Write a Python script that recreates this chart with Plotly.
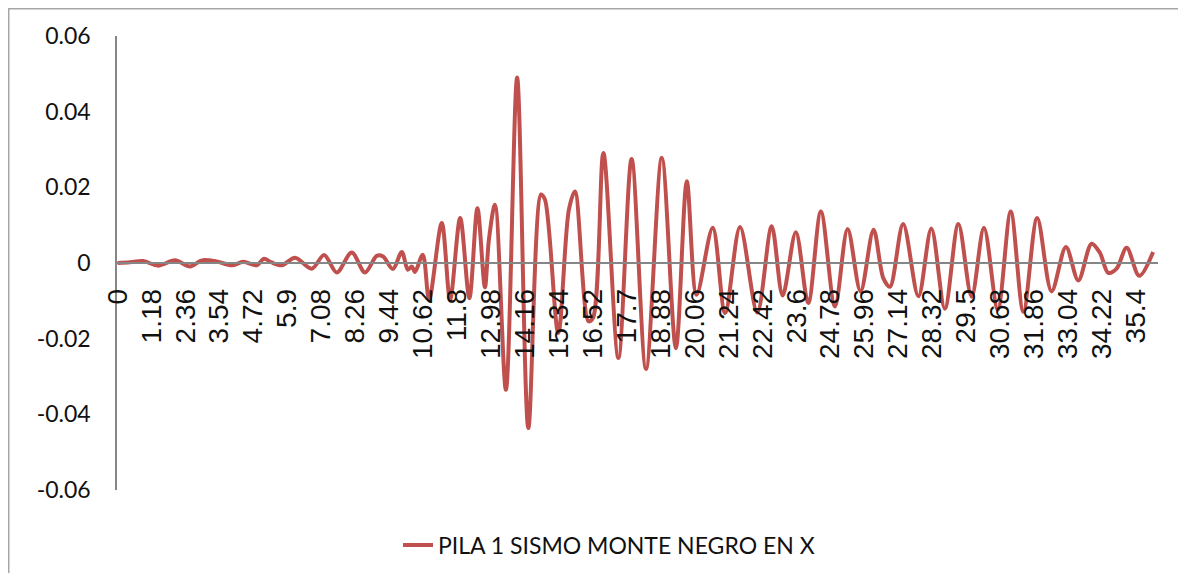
import plotly.graph_objects as go

SERIES_NAME = "PILA 1 SISMO MONTE NEGRO EN X"
LINE_COLOR = "#C0504D"
AXIS_COLOR = "#868686"

# time (s) and displacement at peaks / troughs
time_s = [
    0.0, 0.43, 0.89, 1.41, 2.00, 2.52, 2.93, 3.45, 3.97, 4.37,
    4.84, 5.09, 5.34, 5.71, 6.17, 6.75, 7.18, 7.62, 8.14, 8.60,
    9.01, 9.23, 9.57, 9.88, 10.09, 10.23, 10.34, 10.61, 10.83, 11.27,
    11.56, 11.91, 12.23, 12.51, 12.77, 12.91, 13.12, 13.50, 13.89, 14.28,
    14.72, 14.86, 15.32, 15.69, 15.90, 16.37, 16.53, 16.89, 17.41, 17.87,
    18.37, 18.92, 19.41, 19.79, 20.13, 20.69, 21.12, 21.64, 22.24, 22.74,
    23.12, 23.58, 24.01, 24.45, 24.94, 25.38, 25.83, 26.28, 26.62, 26.85,
    27.31, 27.84, 28.29, 28.76, 29.23, 29.69, 30.12, 30.60, 31.05, 31.49,
    31.97, 32.47, 32.97, 33.40, 33.86, 34.15, 34.44, 34.73, 35.08, 35.52,
    36.00,
]
displacement = [
    0.0, 0.0002, 0.0005, -0.0007, 0.0007, -0.0009, 0.0007, 0.0004, -0.0006, 0.0003,
    -0.0006, 0.0011, 0.0002, -0.0006, 0.0014, -0.0015, 0.0021, -0.0025, 0.0028, -0.0025,
    0.0019, 0.0017, -0.0016, 0.0029, -0.0018, -0.0009, -0.0024, 0.0022, -0.0097, 0.0106,
    -0.0097, 0.0119, -0.0093, 0.0145, -0.0064, 0.0062, 0.0154, -0.0335, 0.0490, -0.0436,
    0.0181, 0.0167, -0.0185, 0.0141, 0.0189, -0.0154, -0.0145, 0.0291, -0.0251, 0.0275,
    -0.0280, 0.0278, -0.0225, 0.0216, -0.0084, 0.0093, -0.0132, 0.0095, -0.0131, 0.0097,
    -0.0086, 0.0081, -0.0106, 0.0136, -0.0115, 0.0090, -0.0075, 0.0088, -0.0040, -0.0063,
    0.0103, -0.0088, 0.0091, -0.0121, 0.0103, -0.0089, 0.0093, -0.0123, 0.0136, -0.0129,
    0.0119, -0.0075, 0.0042, -0.0046, 0.0051, 0.0027, -0.0026, -0.0015, 0.0040, -0.0034,
    0.0029,
]

x_tick_labels = [
    "0", "1.18", "2.36", "3.54", "4.72", "5.9", "7.08", "8.26", "9.44", "10.62",
    "11.8", "12.98", "14.16", "15.34", "16.52", "17.7", "18.88", "20.06", "21.24",
    "22.42", "23.6", "24.78", "25.96", "27.14", "28.32", "29.5", "30.68", "31.86",
    "33.04", "34.22", "35.4",
]
y_tick_labels = ["0.06", "0.04", "0.02", "0", "-0.02", "-0.04", "-0.06"]


def get_plot(show=False):
    """
    Return the plot
    :param show:
    :return:
    """
    fig = go.Figure()
    fig.add_trace(go.Scatter(
        x=time_s, y=displacement, mode="lines", name=SERIES_NAME,
        line=dict(color=LINE_COLOR, width=4, shape="spline", smoothing=0.9),
    ))

    # the page body adds an 8px offset, so the figure is a bit smaller than the window
    fig.update_layout(
        width=1178, height=565,
        margin=dict(l=109, r=28, t=28, b=83, autoexpand=False),
        paper_bgcolor="white", plot_bgcolor="white",
        showlegend=True,
        legend=dict(
            orientation="h", xref="container", yref="container",
            x=0.5102, xanchor="center", y=0.0496, yanchor="middle",
            font=dict(family="Lato, Open Sans, sans-serif", size=23, color="#111111"),
        ),
        shapes=[dict(
            type="rect", xref="paper", yref="paper",
            x0=-0.104, x1=1.0221, y0=-0.3, y1=1.060,
            line=dict(color="#A6A6A6", width=1.5),
        )],
    )
    fig.update_xaxes(
        range=[-0.02, 36.17], automargin=False,
        tickvals=[float(t) for t in x_tick_labels], ticktext=x_tick_labels,
        tickangle=-90, ticks="", showgrid=False, zeroline=False,
        showline=True, linecolor=AXIS_COLOR, linewidth=1.5,
        anchor="free", position=0.5, ticklabelstandoff=14,
        tickfont=dict(family="Liberation Sans Narrow, Liberation Sans, Arial", size=28, color="#111111"),
    )
    fig.update_yaxes(
        range=[-0.06, 0.06], automargin=False,
        tickvals=[float(t) for t in y_tick_labels], ticktext=y_tick_labels,
        ticks="", showgrid=False, zeroline=False,
        showline=True, linecolor=AXIS_COLOR, linewidth=1.5,
        ticklabelstandoff=20,
        tickfont=dict(family="Lato, Open Sans, sans-serif", size=23, color="#111111"),
    )

    if show:
        fig.show()

    return fig


fig = get_plot()
fig.write_html("out.html")
